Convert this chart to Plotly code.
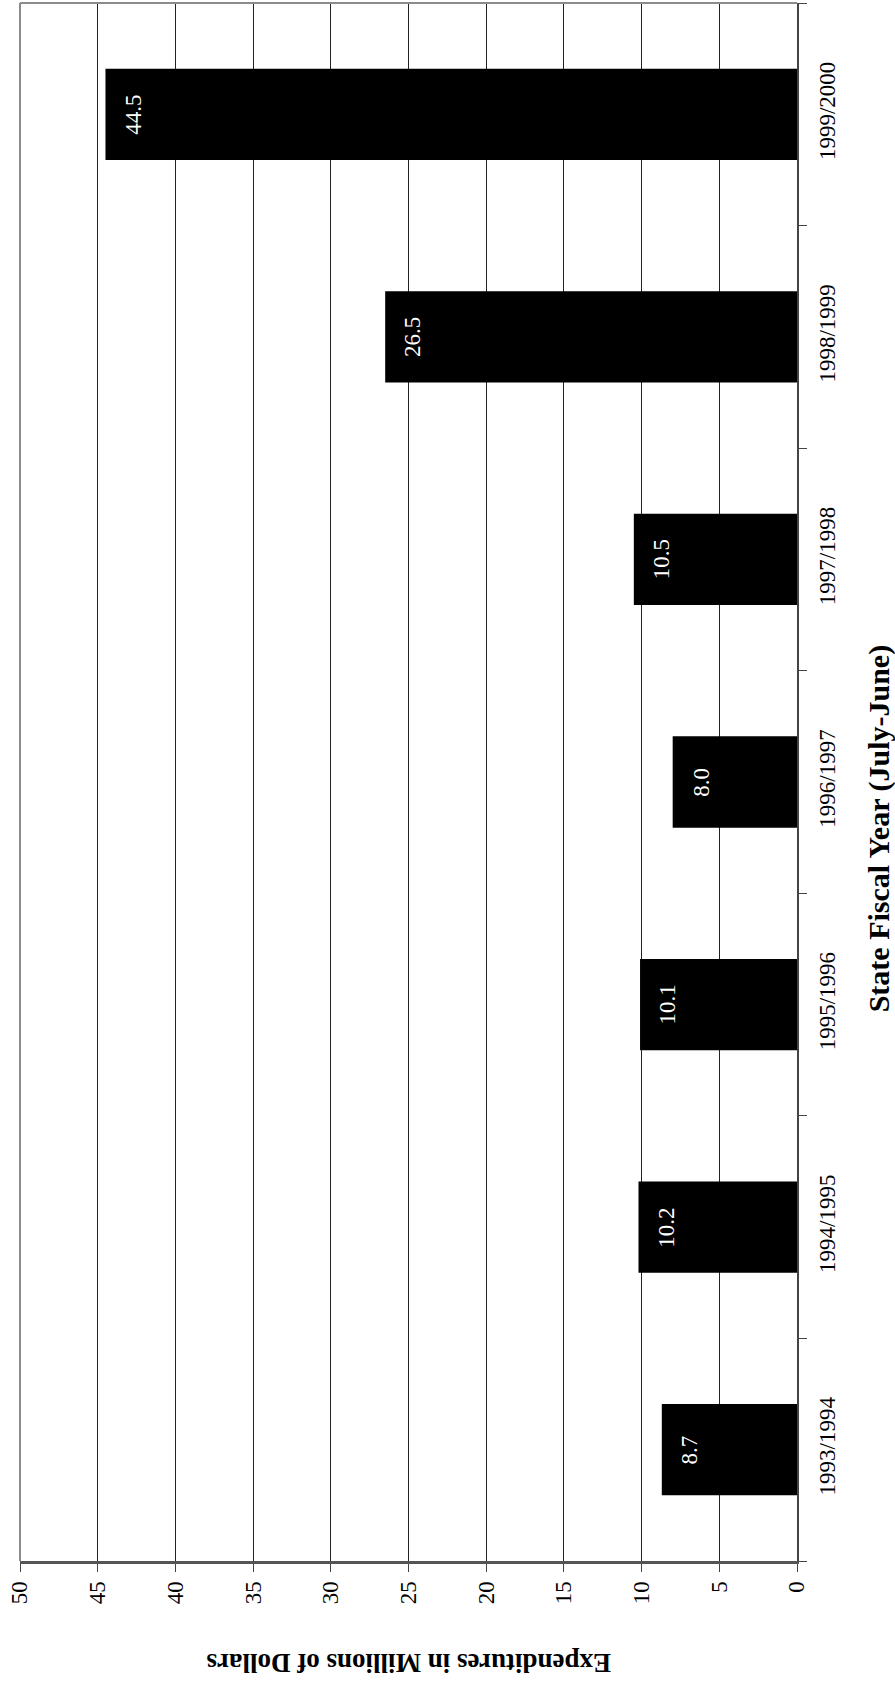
import plotly.graph_objects as go

years = ["1993/1994", "1994/1995", "1995/1996", "1996/1997", "1997/1998", "1998/1999", "1999/2000"]
expenditures = [8.7, 10.2, 10.1, 8.0, 10.5, 26.5, 44.5]
value_ticks = [0, 5, 10, 15, 20, 25, 30, 35, 40, 45, 50]
labels = ["%.1f" % v for v in expenditures]

FONT = "Liberation Serif, Times New Roman, serif"

fig = go.Figure()
fig.add_trace(go.Bar(
    x=expenditures, y=years, orientation="h",
    marker=dict(color="#000000", line=dict(width=0)),
    width=0.41, hoverinfo="skip",
))

for v, c, t in zip(expenditures, years, labels):
    fig.add_annotation(x=v, y=c, xref="x", yref="y", text=t, showarrow=False,
                       textangle=-90, xanchor="center", yanchor="middle", xshift=28,
                       font=dict(family=FONT, size=23, color="#ffffff"))

fig.add_annotation(x=0.5, y=-0.0655, xref="paper", yref="paper",
                   text="<b>Expenditures in Millions of Dollars</b>", showarrow=False,
                   textangle=180, xanchor="center", yanchor="middle",
                   font=dict(family=FONT, size=27, color="#000000"))
fig.add_annotation(x=1.105, y=0.47, xref="paper", yref="paper",
                   text="<b>State Fiscal Year (July-June)</b>", showarrow=False,
                   textangle=-90, xanchor="center", yanchor="middle",
                   font=dict(family=FONT, size=30, color="#000000"))

# plot border (top / left) in light grey
fig.add_shape(type="line", xref="paper", yref="paper", x0=0, x1=1, y0=1, y1=1,
              line=dict(color="#8c8c8c", width=2))
fig.add_shape(type="line", xref="paper", yref="paper", x0=0, x1=0, y0=0, y1=1,
              line=dict(color="#8c8c8c", width=2))

fig.update_layout(
    width=895, height=1686,
    margin=dict(l=20, r=98, t=3, b=125),
    paper_bgcolor="#ffffff", plot_bgcolor="#ffffff",
    showlegend=False,
    font=dict(family=FONT, size=23, color="#000000"),
    xaxis=dict(
        range=[50, 0], tickvals=value_ticks, ticktext=[str(v) for v in value_ticks],
        tickangle=-90, ticks="outside", ticklen=8, tickcolor="#444444", tickwidth=1,
        showgrid=True, gridcolor="#222222", gridwidth=1, zeroline=False,
        showline=True, linecolor="#555555", linewidth=3,
        tickfont=dict(family=FONT, size=23, color="#000000"),
    ),
    yaxis=dict(
        categoryorder="array", categoryarray=years, side="right",
        tickangle=-90, ticks="outside", ticklen=8, tickcolor="#444444", tickwidth=1,
        tickson="boundaries", showgrid=False, zeroline=False,
        showline=True, linecolor="#444444", linewidth=2, ticklabelstandoff=8,
        tickfont=dict(family=FONT, size=23, color="#000000"),
    ),
)

fig.write_html("out.html")
